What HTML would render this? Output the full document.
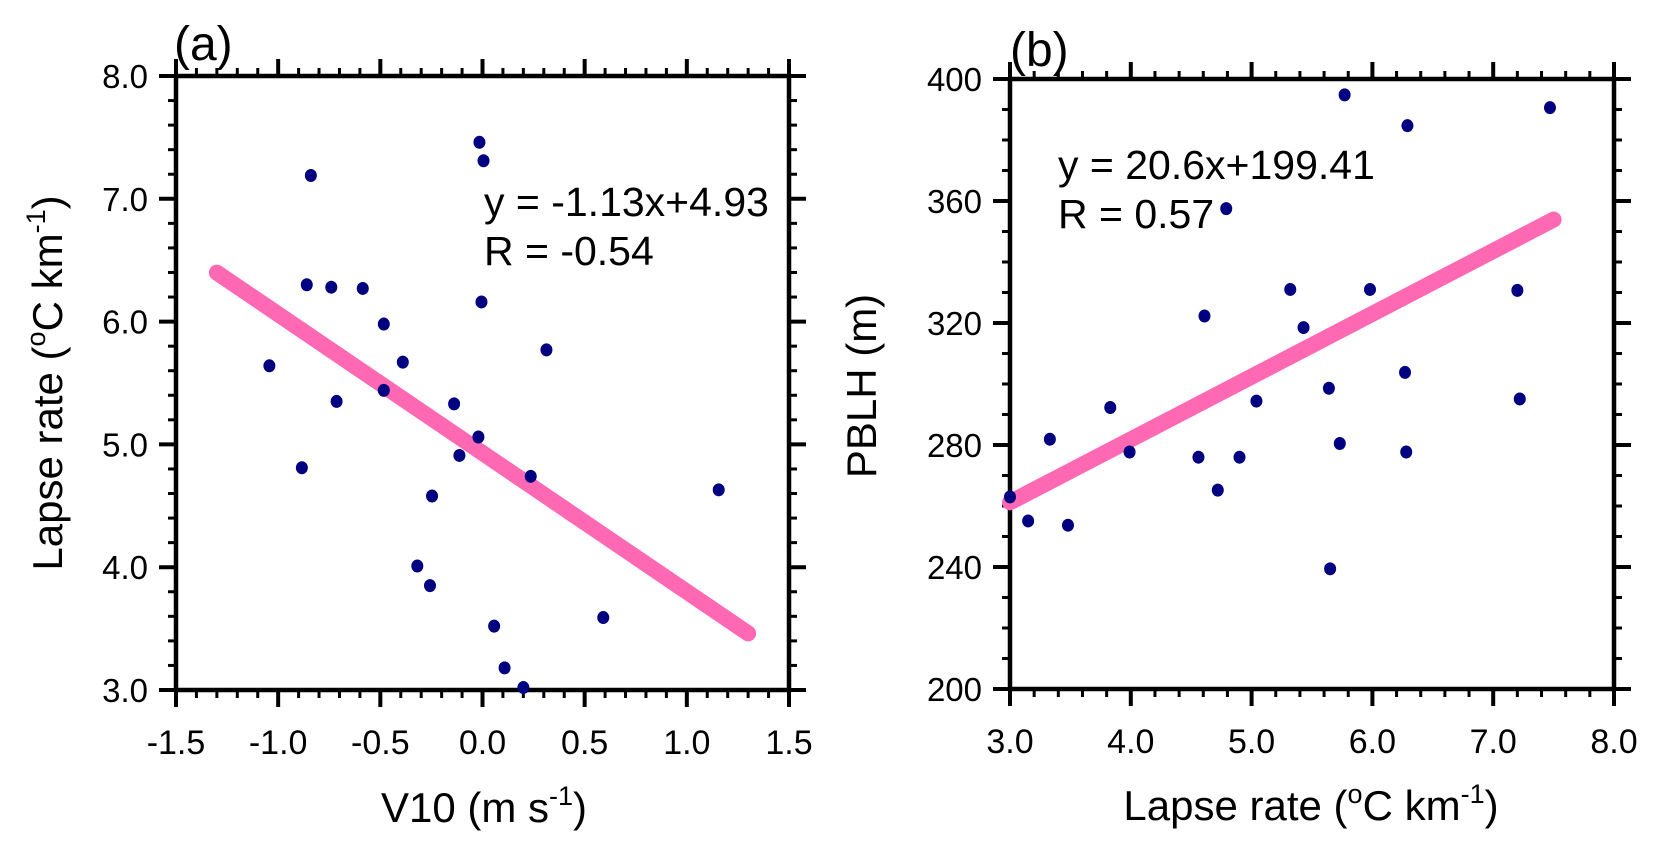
<!DOCTYPE html>
<html><head><meta charset="utf-8">
<style>
html,body{margin:0;padding:0;background:#fff;}
svg{display:block;font-family:"Liberation Sans",Arial,sans-serif;}
</style></head>
<body>
<svg id="chart" width="1656" height="846" xmlns="http://www.w3.org/2000/svg"></svg>
<script>
// Panel (a) data
const aV10 = [-0.84,-0.015,0.005,-0.86,-0.74,-0.586,-0.005,-0.483,-0.39,0.313,-1.043,-0.714,-0.483,-0.139,-0.02,-0.113,0.236,-0.884,-0.247,1.156,-0.319,-0.257,0.591,0.057,0.108,0.2];
const aLapse = [7.19,7.46,7.31,6.30,6.28,6.27,6.16,5.98,5.67,5.77,5.64,5.35,5.44,5.33,5.06,4.91,4.74,4.81,4.58,4.63,4.01,3.85,3.59,3.52,3.18,3.02];
const aFit = [-1.13, 4.93];
const aFitRange = [-1.3, 1.3];
const aXTicks = ["-1.5","-1.0","-0.5","0.0","0.5","1.0","1.5"];
const aYTicks = ["3.0","4.0","5.0","6.0","7.0","8.0"];
// Panel (b) data
const bLapse = [3.0,3.15,3.48,3.33,3.83,3.99,4.56,4.61,4.72,4.79,4.90,5.04,5.32,5.43,5.64,5.65,5.73,5.77,5.98,6.27,6.28,6.29,7.20,7.22,7.47];
const bPBLH = [263,255.1,253.7,281.9,292.3,277.7,276.0,322.3,265.2,357.5,276.0,294.4,331.0,318.5,298.6,239.4,280.5,394.8,331.0,303.8,277.7,384.7,330.7,295.1,390.6];
const bFit = [20.6, 199.41];
const bFitRange = [3.0, 7.5];
const bXTicks = ["3.0","4.0","5.0","6.0","7.0","8.0"];
const bYTicks = ["200","240","280","320","360","400"];

const NS="http://www.w3.org/2000/svg";
const svg=document.getElementById('chart');
function mk(tag,attrs,parent){const e=document.createElementNS(NS,tag);for(const k in attrs)e.setAttribute(k,attrs[k]);(parent||svg).appendChild(e);return e;}

function panel(cfg){
  const g=mk('g',{});
  
  
  const L=cfg.box[0],R=cfg.box[1],T=cfg.box[2],B=cfg.box[3];
  const sx=v=>L+(v-cfg.xr[0])/(cfg.xr[1]-cfg.xr[0])*(R-L);
  const sy=v=>B-(v-cfg.yr[0])/(cfg.yr[1]-cfg.yr[0])*(B-T);
  const fr=mk('rect',{x:L,y:T,width:R-L,height:B-T,fill:'none',stroke:'#000','stroke-width':4.5},g);
  
  
  const nx=Math.round((cfg.xr[1]-cfg.xr[0])/cfg.xminor);
  for(let i=0;i<=nx;i++){
    const v=cfg.xr[0]+i*cfg.xminor, x=sx(v), major=(i%cfg.xper===0), len=major?17:8;
    mk('line',{x1:x,x2:x,y1:B,y2:B+len,stroke:'#000','stroke-width':major?4:3},g);
    mk('line',{x1:x,x2:x,y1:T,y2:T-len,stroke:'#000','stroke-width':major?4:3},g);
  }
  cfg.xt.forEach((t,i)=>{
    const v=cfg.xr[0]+i*cfg.xminor*cfg.xper;
    const tx=mk('text',{x:sx(v),y:B+64,'font-size':34,'text-anchor':'middle'},g);
    tx.textContent=t;
    
    
  });
  const ny=Math.round((cfg.yr[1]-cfg.yr[0])/cfg.yminor);
  for(let i=0;i<=ny;i++){
    const v=cfg.yr[0]+i*cfg.yminor, y=sy(v), major=(i%cfg.yper===0), len=major?17:8;
    mk('line',{x1:L,x2:L-len,y1:y,y2:y,stroke:'#000','stroke-width':major?4:3},g);
    mk('line',{x1:R,x2:R+len,y1:y,y2:y,stroke:'#000','stroke-width':major?4:3},g);
  }
  cfg.yt.forEach((t,i)=>{
    const v=cfg.yr[0]+i*cfg.yminor*cfg.yper;
    const ty=mk('text',{x:L-28,y:sy(v)+12,'font-size':33,'text-anchor':'end'},g);
    ty.textContent=t;
    
    
  });
  const fl=mk('line',{x1:sx(cfg.fr[0]),y1:sy(cfg.fit[0]*cfg.fr[0]+cfg.fit[1]),x2:sx(cfg.fr[1]),y2:sy(cfg.fit[0]*cfg.fr[1]+cfg.fit[1]),stroke:'#ff69b4','stroke-width':16,'stroke-linecap':'round'},g);
  
  
  cfg.xs.forEach((xv,i)=>{
    const c=mk('ellipse',{cx:sx(xv),cy:sy(cfg.ys[i]),rx:6,ry:6.5,fill:'#000080'},g);
    
    
  });
}

panel({name:'panel-a',box:[176,789,76,690],xr:[-1.5,1.5],yr:[3,8],xminor:0.1,xper:5,yminor:0.2,yper:5,
  xt:aXTicks,yt:aYTicks,xs:aV10,ys:aLapse,fit:aFit,fr:aFitRange});
panel({name:'panel-b',box:[1010,1614,79,689],xr:[3,8],yr:[200,400],xminor:0.2,xper:5,yminor:10,yper:4,
  xt:bXTicks,yt:bYTicks,xs:bLapse,ys:bPBLH,fit:bFit,fr:bFitRange});
</script>
<svg style="position:absolute;left:0;top:0" width="1656" height="846" xmlns="http://www.w3.org/2000/svg" font-family="Liberation Sans, Arial, sans-serif">
  <text x="174" y="60" font-size="48">(a)</text>
  <text x="1010" y="66" font-size="48">(b)</text>
  <text x="484" y="216" font-size="41">y = -1.13x+4.93</text>
  <text x="484" y="265" font-size="41">R = -0.54</text>
  <text x="1058" y="179" font-size="41">y = 20.6x+199.41</text>
  <text x="1058" y="228" font-size="41">R = 0.57</text>
  <text x="484" y="822" font-size="42" text-anchor="middle">V10 (m s<tspan dy="-17" font-size="27">-1</tspan><tspan dy="17">)</tspan></text>
  <text x="1311" y="820" font-size="42" text-anchor="middle">Lapse rate (<tspan dy="-17" font-size="27">o</tspan><tspan dy="17">C km</tspan><tspan dy="-17" font-size="27">-1</tspan><tspan dy="17">)</tspan></text>
  <text transform="translate(62,383) rotate(-90)" font-size="42" text-anchor="middle">Lapse rate (<tspan dy="-17" font-size="27">o</tspan><tspan dy="17">C km</tspan><tspan dy="-17" font-size="27">-1</tspan><tspan dy="17">)</tspan></text>
  <text transform="translate(876,386) rotate(-90)" font-size="42" text-anchor="middle">PBLH (m)</text>
</svg>
</body></html>
